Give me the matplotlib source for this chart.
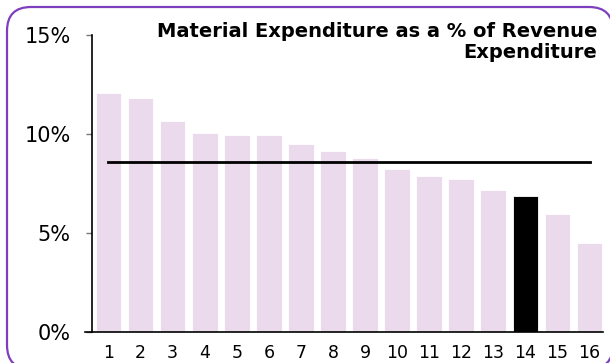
import matplotlib.pyplot as plt
from matplotlib.patches import FancyBboxPatch

plt.rcParams['font.family'] = ['DejaVu Sans']

# 各单位材料支出占收入支出的比例 (%)
units = list(range(1, 17))
material_pct = [12.06, 11.81, 10.64, 10.04, 9.93, 9.93, 9.48, 9.12,
                8.77, 8.21, 7.86, 7.75, 7.15, 6.89, 5.98, 4.51]
average_pct = 8.60
highlight_unit = 14

fig = plt.figure(figsize=(6.10, 3.63), dpi=100)

# 圆角紫色外框（按像素坐标绘制）
bg = fig.add_axes([0, 0, 1, 1])
bg.set_xlim(0, 610)
bg.set_ylim(363, 0)
bg.axis('off')
frame = FancyBboxPatch((7, 7), 606, 362, boxstyle='round,pad=0,rounding_size=24',
                       facecolor='white', edgecolor='#7E3FBF', linewidth=1.6,
                       clip_on=False)
bg.add_patch(frame)

# 标题
bg.text(597, 22, 'Material Expenditure as a % of Revenue\nExpenditure',
        ha='right', va='top', fontsize=14, fontweight='bold', linespacing=1.1)

ax = fig.add_axes([92 / 610, 31 / 363, 511 / 610, 297 / 363])
ax.patch.set_alpha(0)

colors = ['black' if u == highlight_unit else '#EBD9EC' for u in units]
ax.bar(units, material_pct, width=0.8, color=colors, edgecolor='white', linewidth=0.6)

# 平均线
ax.plot([units[0], units[-1]], [average_pct, average_pct], color='black', linewidth=2)

ax.set_xlim(0.486, 16.42)
ax.set_ylim(0, 15)
ax.set_yticks([0, 5, 10, 15])
ax.set_yticklabels(['0%', '5%', '10%', '15%'], fontsize=15)
ax.set_xticks(units)
ax.set_xticklabels([str(u) for u in units], fontsize=12.5)
ax.tick_params(axis='x', length=0, pad=9)
ax.tick_params(axis='y', length=4.5, width=1, color='#777777', pad=11, direction='out')

ax.spines['top'].set_visible(False)
ax.spines['right'].set_visible(False)
ax.spines['left'].set_linewidth(1.2)
ax.spines['bottom'].set_linewidth(1.2)
ax.spines['bottom'].set_bounds(0.27, 16.42)

plt.savefig('out.png', dpi=100)
